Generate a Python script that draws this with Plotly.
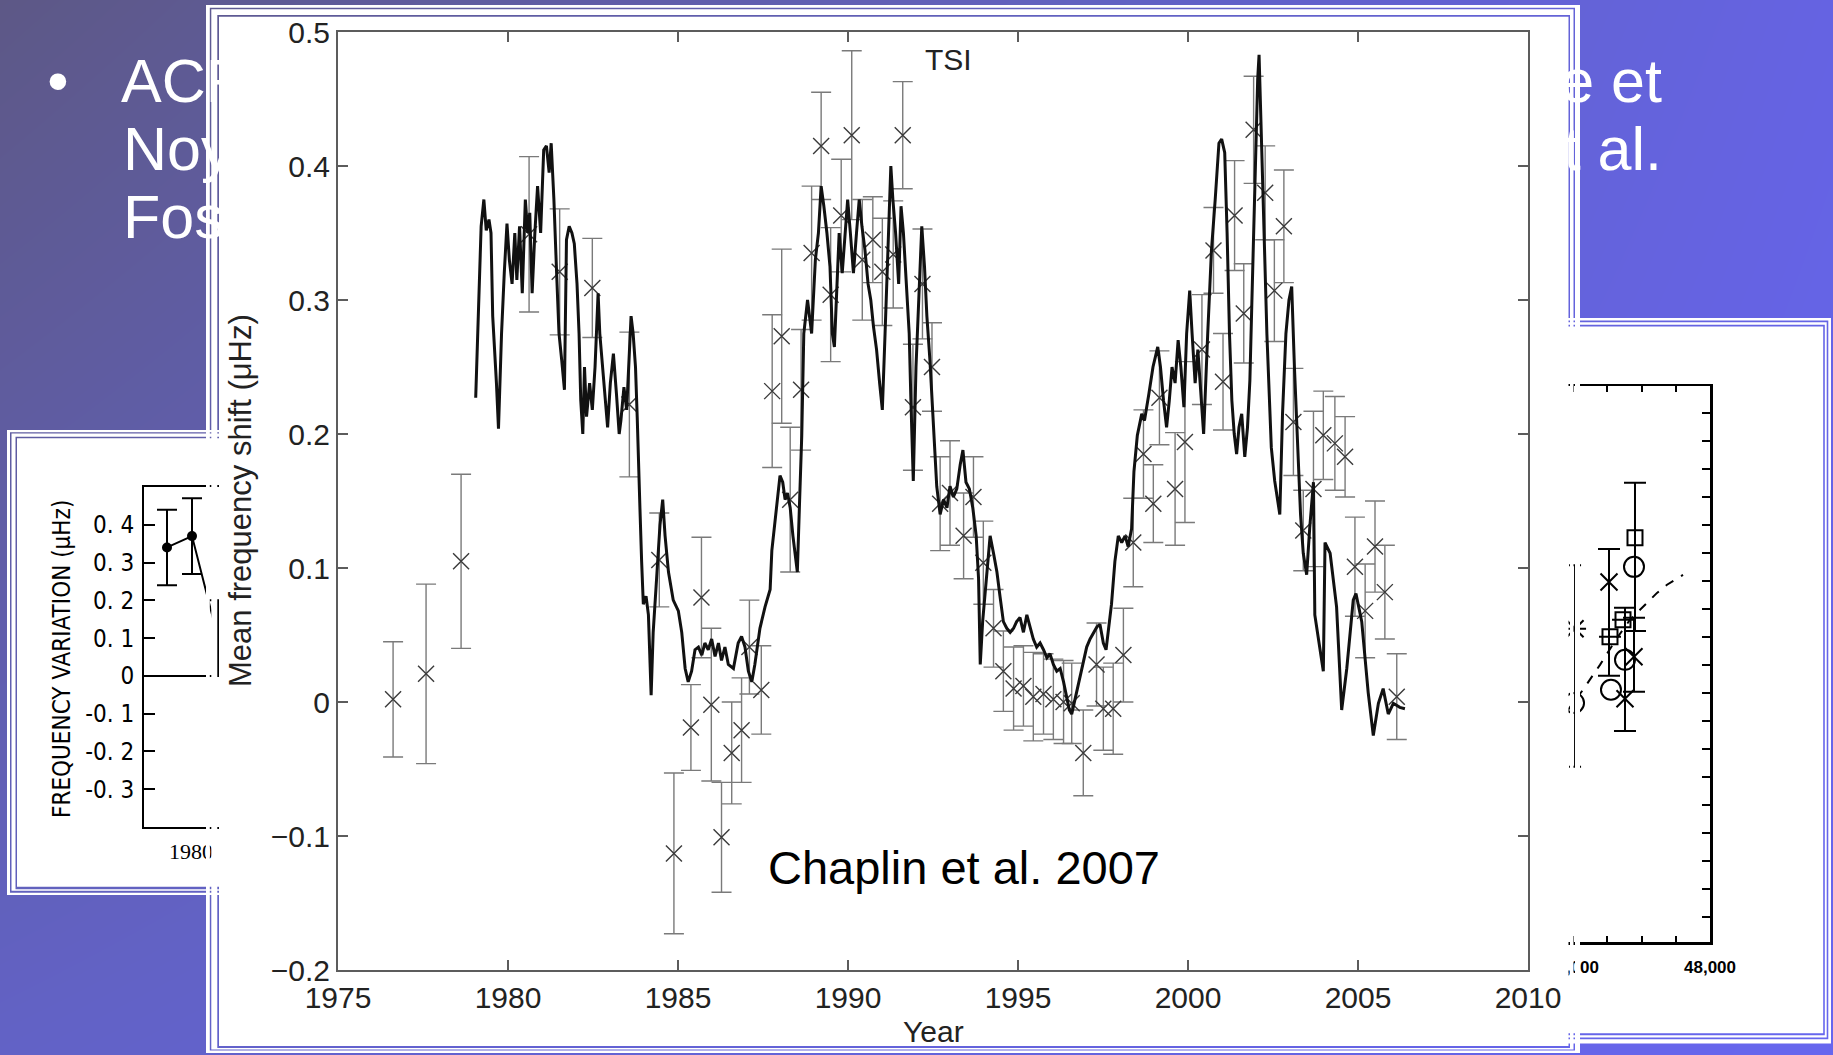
import plotly.graph_objects as go

W, H = 1833, 1055

# ---------------- main chart data (Chaplin et al. 2007) ----------------
tsi_year = [1979.05, 1979.14, 1979.21, 1979.29, 1979.36, 1979.44, 1979.50, 1979.55, 1979.61, 1979.66,
            1979.72, 1979.81, 1979.89, 1979.97, 1980.04, 1980.12, 1980.20, 1980.26, 1980.34, 1980.42,
            1980.51, 1980.58, 1980.64, 1980.71, 1980.79, 1980.87, 1980.96, 1981.05, 1981.13, 1981.21,
            1981.27, 1981.35, 1981.43, 1981.50, 1981.58, 1981.66, 1981.72, 1981.80, 1981.88, 1981.95,
            1982.03, 1982.09, 1982.14, 1982.20, 1982.25, 1982.31, 1982.40, 1982.48, 1982.56, 1982.65,
            1982.70, 1982.78, 1982.87, 1982.93, 1983.01, 1983.10, 1983.19, 1983.27, 1983.32, 1983.41,
            1983.49, 1983.55, 1983.62, 1983.68, 1983.75, 1983.80, 1983.84, 1983.88, 1983.93, 1983.98,
            1984.06, 1984.13, 1984.21, 1984.27, 1984.37, 1984.47, 1984.55, 1984.62, 1984.72, 1984.86,
            1985.01, 1985.11, 1985.21, 1985.30, 1985.40, 1985.50, 1985.60, 1985.70, 1985.79, 1985.89,
            1985.99, 1986.09, 1986.19, 1986.28, 1986.38, 1986.48, 1986.63, 1986.77, 1986.87, 1986.97,
            1987.07, 1987.17, 1987.26, 1987.41, 1987.56, 1987.71, 1987.76, 1987.89, 1988.00, 1988.08,
            1988.15, 1988.22, 1988.30, 1988.38, 1988.45, 1988.51, 1988.57, 1988.64, 1988.70, 1988.81,
            1988.93, 1989.04, 1989.13, 1989.21, 1989.29, 1989.38, 1989.47, 1989.54, 1989.60, 1989.67,
            1989.74, 1989.83, 1989.92, 1989.99, 1990.07, 1990.16, 1990.25, 1990.33, 1990.41, 1990.50,
            1990.59, 1990.67, 1990.75, 1990.84, 1990.93, 1991.01, 1991.09, 1991.18, 1991.26, 1991.32,
            1991.40, 1991.49, 1991.56, 1991.63, 1991.72, 1991.80, 1991.85, 1991.92, 1992.00, 1992.08,
            1992.17, 1992.25, 1992.32, 1992.41, 1992.50, 1992.61, 1992.71, 1992.81, 1992.91, 1993.00,
            1993.10, 1993.20, 1993.30, 1993.38, 1993.47, 1993.57, 1993.67, 1993.77, 1993.84, 1993.89,
            1993.96, 1994.06, 1994.18, 1994.28, 1994.38, 1994.47, 1994.57, 1994.67, 1994.77, 1994.87,
            1994.96, 1995.06, 1995.16, 1995.26, 1995.36, 1995.45, 1995.55, 1995.65, 1995.75, 1995.85,
            1995.94, 1996.04, 1996.14, 1996.24, 1996.34, 1996.43, 1996.51, 1996.58, 1996.65, 1996.73,
            1996.83, 1996.93, 1997.02, 1997.12, 1997.22, 1997.32, 1997.41, 1997.51, 1997.59, 1997.67,
            1997.75, 1997.85, 1997.95, 1998.05, 1998.15, 1998.24, 1998.34, 1998.41, 1998.51, 1998.64,
            1998.72, 1998.85, 1998.97, 1999.11, 1999.19, 1999.28, 1999.37, 1999.45, 1999.53, 1999.62,
            1999.71, 1999.79, 1999.88, 1999.96, 2000.05, 2000.12, 2000.21, 2000.29, 2000.38, 2000.46,
            2000.58, 2000.69, 2000.80, 2000.91, 2000.99, 2001.08, 2001.15, 2001.22, 2001.29, 2001.36,
            2001.43, 2001.50, 2001.58, 2001.67, 2001.75, 2001.82, 2001.88, 2001.94, 2002.00, 2002.05,
            2002.09, 2002.13, 2002.21, 2002.32, 2002.45, 2002.55, 2002.64, 2002.70, 2002.78, 2002.88,
            2002.97, 2003.05, 2003.13, 2003.22, 2003.31, 2003.39, 2003.49, 2003.58, 2003.69, 2003.73,
            2003.88, 2003.98, 2004.03, 2004.18, 2004.37, 2004.52, 2004.67, 2004.86, 2004.94, 2005.11,
            2005.30, 2005.45, 2005.60, 2005.74, 2005.89, 2006.04, 2006.23, 2006.38]
tsi_shift = [0.227, 0.300, 0.355, 0.375, 0.352, 0.360, 0.350, 0.288, 0.263, 0.238,
             0.204, 0.275, 0.320, 0.357, 0.330, 0.312, 0.350, 0.315, 0.355, 0.305,
             0.375, 0.350, 0.365, 0.305, 0.350, 0.385, 0.350, 0.412, 0.415, 0.395,
             0.417, 0.375, 0.320, 0.275, 0.255, 0.233, 0.345, 0.355, 0.350, 0.342,
             0.312, 0.275, 0.225, 0.200, 0.250, 0.213, 0.238, 0.218, 0.250, 0.305,
             0.275, 0.250, 0.220, 0.205, 0.238, 0.260, 0.230, 0.200, 0.210, 0.235,
             0.218, 0.250, 0.288, 0.275, 0.250, 0.213, 0.170, 0.145, 0.105, 0.073,
             0.079, 0.065, 0.005, 0.052, 0.092, 0.132, 0.151, 0.124, 0.097, 0.076,
             0.068, 0.052, 0.025, 0.015, 0.023, 0.039, 0.041, 0.035, 0.044, 0.039,
             0.047, 0.034, 0.044, 0.031, 0.041, 0.028, 0.025, 0.044, 0.049, 0.041,
             0.023, 0.015, 0.028, 0.055, 0.071, 0.084, 0.113, 0.145, 0.169, 0.164,
             0.151, 0.156, 0.145, 0.124, 0.108, 0.097, 0.145, 0.199, 0.275, 0.300,
             0.275, 0.330, 0.350, 0.385, 0.370, 0.350, 0.325, 0.275, 0.265, 0.312,
             0.350, 0.320, 0.350, 0.375, 0.350, 0.320, 0.350, 0.375, 0.355, 0.337,
             0.312, 0.300, 0.280, 0.263, 0.238, 0.218, 0.275, 0.350, 0.400, 0.375,
             0.350, 0.312, 0.370, 0.350, 0.305, 0.275, 0.225, 0.165, 0.250, 0.300,
             0.355, 0.325, 0.288, 0.255, 0.213, 0.161, 0.140, 0.151, 0.145, 0.161,
             0.153, 0.159, 0.177, 0.188, 0.164, 0.159, 0.145, 0.124, 0.092, 0.028,
             0.060, 0.092, 0.124, 0.111, 0.097, 0.079, 0.060, 0.055, 0.052, 0.055,
             0.060, 0.063, 0.052, 0.065, 0.055, 0.047, 0.041, 0.044, 0.039, 0.033,
             0.036, 0.028, 0.023, 0.025, 0.015, 0.004, -0.006, -0.009, -0.001, 0.007,
             0.017, 0.031, 0.041, 0.047, 0.052, 0.056, 0.058, 0.044, 0.039, 0.055,
             0.073, 0.105, 0.124, 0.119, 0.124, 0.116, 0.129, 0.172, 0.199, 0.215,
             0.210, 0.230, 0.250, 0.265, 0.250, 0.225, 0.205, 0.225, 0.250, 0.238,
             0.270, 0.250, 0.220, 0.275, 0.307, 0.275, 0.238, 0.263, 0.225, 0.200,
             0.275, 0.337, 0.375, 0.417, 0.420, 0.410, 0.350, 0.275, 0.225, 0.200,
             0.185, 0.205, 0.215, 0.183, 0.205, 0.240, 0.300, 0.360, 0.420, 0.465,
             0.483, 0.440, 0.375, 0.275, 0.190, 0.165, 0.150, 0.140, 0.215, 0.275,
             0.300, 0.310, 0.250, 0.190, 0.140, 0.111, 0.095, 0.130, 0.164, 0.065,
             0.039, 0.023, 0.119, 0.111, 0.071, -0.006, 0.025, 0.076, 0.081, 0.060,
             0.007, -0.025, -0.001, 0.010, -0.009, -0.001, -0.004, -0.005]

pt_year = [1976.62, 1977.59, 1978.62, 1980.62, 1981.52, 1982.48, 1983.57, 1984.45, 1984.88, 1985.38,
           1985.69, 1985.98, 1986.28, 1986.58, 1986.87, 1987.10, 1987.45, 1987.77, 1988.05, 1988.30,
           1988.62, 1988.93, 1989.21, 1989.49, 1989.80, 1990.11, 1990.42, 1990.73, 1991.01, 1991.33,
           1991.61, 1991.91, 1992.19, 1992.47, 1992.71, 1993.00, 1993.40, 1993.69, 1993.98, 1994.28,
           1994.57, 1994.87, 1995.16, 1995.45, 1995.75, 1996.04, 1996.34, 1996.58, 1996.92, 1997.31,
           1997.51, 1997.80, 1998.10, 1998.39, 1998.69, 1998.98, 1999.16, 1999.62, 1999.91, 2000.41,
           2000.75, 2001.03, 2001.37, 2001.64, 2001.93, 2002.27, 2002.54, 2002.82, 2003.10, 2003.39,
           2003.69, 2003.98, 2004.32, 2004.62, 2004.91, 2005.21, 2005.50, 2005.79, 2006.14]
pt_shift = [0.002, 0.021, 0.105, 0.349, 0.321, 0.309, 0.222, 0.106, -0.113, -0.019,
            0.078, -0.002, -0.101, -0.038, -0.021, 0.041, 0.009, 0.232, 0.273, 0.151,
            0.233, 0.335, 0.415, 0.304, 0.363, 0.423, 0.330, 0.345, 0.321, 0.334,
            0.423, 0.220, 0.312, 0.250, 0.148, 0.156, 0.124, 0.153, 0.104, 0.055,
            0.023, 0.010, 0.012, 0.004, 0.006, 0.002, 0.000, -0.001, -0.038, 0.028,
            -0.005, -0.005, 0.035, 0.119, 0.185, 0.148, 0.227, 0.159, 0.194, 0.263,
            0.337, 0.239, 0.363, 0.290, 0.427, 0.380, 0.307, 0.355, 0.209, 0.128,
            0.159, 0.199, 0.193, 0.183, 0.101, 0.068, 0.116, 0.082, 0.004]
pt_err = [0.043, 0.067, 0.065, 0.058, 0.047, 0.037, 0.054, 0.035, 0.060, 0.032,
          0.045, 0.057, 0.041, 0.038, 0.039, 0.035, 0.033, 0.057, 0.065, 0.054,
          0.045, 0.050, 0.040, 0.050, 0.042, 0.063, 0.045, 0.032, 0.040, 0.040,
          0.040, 0.047, 0.041, 0.033, 0.035, 0.039, 0.032, 0.030, 0.031, 0.029,
          0.030, 0.031, 0.030, 0.033, 0.030, 0.030, 0.031, 0.030, 0.032, 0.031,
          0.031, 0.034, 0.035, 0.033, 0.033, 0.029, 0.035, 0.042, 0.060, 0.041,
          0.032, 0.036, 0.041, 0.037, 0.040, 0.035, 0.038, 0.042, 0.040, 0.030,
          0.058, 0.033, 0.035, 0.030, 0.037, 0.035, 0.034, 0.035, 0.032]

x_ticks = [1975, 1980, 1985, 1990, 1995, 2000, 2005, 2010]

# ---------------- left inset (frequency variation) ----------------
li_year = [1979.04, 1980.04, 1981.08]
li_var = [0.34, 0.37, 0.10]
li_err = [0.10, 0.10, 0.10]
li_tickvals = [-0.3, -0.2, -0.1, 0, 0.1, 0.2, 0.3, 0.4]
li_ticktext = ["-0. 3", "-0. 2", "-0. 1", "0", "0. 1", "0. 2", "0. 3", "0. 4"]

# ---------------- right inset ----------------
ri_sq_x = [45080, 45460, 45810]
ri_sq_y = [1.0, 1.61, 4.54]
ri_ci_x = [44030, 45109, 45518, 45781]
ri_ci_y = [-1.36, -0.89, 0.18, 3.5]
ri_x_x = [44060, 45051, 45781, 45518]
ri_x_y = [1.29, 2.96, 0.29, -1.21]
ri_x_up = [0, 1.18, 1.39, 3.25]
ri_x_dn = [0, 3.35, 1.25, 1.15]
ri_sq_up = [0, 0, 1.96]
ri_sq_dn = [0, 0, 3.33]
ri_br_x = [44060]
ri_br_y = [-0.04]
ri_br_err = [3.6]
ri_curve_x = [43800, 44292, 44788, 45285, 45664, 46044, 46453, 46745, 47212]
ri_curve_y = [-1.7, -0.89, 0.0, 0.96, 1.61, 2.07, 2.57, 2.86, 3.21]
ri_xtick = list(range(32000, 48001, 1000))
ri_xlabel = [f"{v:,}" if v % 4000 == 0 else "" for v in ri_xtick]

# ---------------- slide geometry (pixels) ----------------
# edges: [ring1 outer, ring1 inner, ring2 outer, ring2 inner, interior]
MAIN = dict(l=[206, 209.8, 211.3, 217.3, 219.0], t=[5, 7.8, 9.2, 15.0, 16.8],
            r=[1580, 1575, 1573.5, 1570, 1568.5], b=[1053, 1050.5, 1049.5, 1048, 1046])
LEFT = dict(l=[7, 10, 11.5, 15.5, 17], t=[430, 432.3, 433.6, 436.8, 438.3],
            r=[400, 397, 395.5, 391.5, 390], b=[895, 892.7, 890.7, 889.3, 886.7])
RIGHT = dict(l=[1300, 1303, 1304.5, 1308, 1309.5], t=[318, 320.5, 322.2, 324.8, 326.5],
             r=[1831, 1828.3, 1826.7, 1824.8, 1823.2], b=[1043.5, 1039.2, 1037.5, 1035.2, 1033.2])

FONT = "Liberation Sans, Arial, sans-serif"
NARROW = "Liberation Sans Narrow, DejaVu Sans Condensed, sans-serif"


def rect(x0, y0, x1, y1):
    return [x0, x1, x1, x0, x0, None], [y0, y0, y1, y1, y0, None]


def panel(e):
    xs, ys = [], []
    for k in (0, 2):
        L0, L1 = e['l'][k], e['l'][k + 1]
        T0, T1 = e['t'][k], e['t'][k + 1]
        R0, R1 = e['r'][k], e['r'][k + 1]
        B0, B1 = e['b'][k], e['b'][k + 1]
        for r in (rect(L0, T0, R0, T1), rect(L0, B1, R0, B0), rect(L0, T0, L1, B0), rect(R1, T0, R0, B0)):
            xs += r[0]
            ys += r[1]
    r = rect(e['l'][4], e['t'][4], e['r'][4], e['b'][4])
    xs += r[0]
    ys += r[1]
    return xs, ys


def poly_trace(e, ax):
    xs, ys = panel(e)
    return go.Scatter(x=xs, y=ys, mode='lines', fill='toself', fillcolor='white',
                      line=dict(width=0, color='white'), hoverinfo='skip',
                      xaxis='x' + ax, yaxis='y' + ax)


fig = go.Figure()

# ---- subplot 1: background gradient, bullet text, inset panels ----
fig.add_trace(go.Heatmap(x=[0, W], y=[0, H], z=[[0, 0.85], [0.55, 1]], zsmooth='best',
                         colorscale=[[0, '#5d5886'], [0.55, '#6262c6'], [0.85, '#6563e2'], [1, '#6666ee']],
                         showscale=False, hoverinfo='skip', xaxis='x', yaxis='y'))
FS = 61
base = [102, 170, 238]
fig.add_trace(go.Scatter(x=[58], y=[base[0] - 0.25 * FS], mode='text', text=['•'],
                         textposition='middle center', hoverinfo='skip',
                         textfont=dict(family=FONT, size=FS, color='white'), xaxis='x', yaxis='y'))
fig.add_trace(go.Scatter(x=[121, 123, 123], y=[b - 0.25 * FS for b in base], mode='text',
                         text=['ACR', 'Noy', 'Fos'], textposition='middle right', hoverinfo='skip',
                         textfont=dict(family=FONT, size=FS, color='white'), xaxis='x', yaxis='y'))
fig.add_trace(go.Scatter(x=[1662, 1662], y=[b - 0.25 * FS for b in base[:2]], mode='text',
                         text=['lle et', 'et al.'], textposition='middle left', hoverinfo='skip',
                         textfont=dict(family=FONT, size=FS, color='white'), xaxis='x', yaxis='y'))
fig.add_trace(poly_trace(LEFT, ''))
fig.add_trace(poly_trace(RIGHT, ''))

# ---- subplot 2: left inset chart ----
fig.add_trace(go.Scatter(x=li_year, y=li_var, mode='lines+markers',
                         marker=dict(size=10, color='black'), line=dict(color='black', width=2),
                         error_y=dict(type='data', array=li_err, color='black', thickness=2, width=10),
                         hoverinfo='skip', xaxis='x2', yaxis='y2'))

# ---- subplot 3: right inset chart ----
fig.add_trace(go.Scatter(x=ri_curve_x, y=ri_curve_y, mode='lines',
                         line=dict(color='black', width=2, dash='dash'), hoverinfo='skip',
                         xaxis='x3', yaxis='y3'))
fig.add_trace(go.Scatter(x=ri_br_x, y=ri_br_y, mode='markers', marker=dict(size=1, color='rgba(0,0,0,0)'),
                         error_y=dict(type='data', array=ri_br_err, color='black', thickness=2, width=6),
                         hoverinfo='skip', xaxis='x3', yaxis='y3'))
fig.add_trace(go.Scatter(x=ri_sq_x, y=ri_sq_y, mode='markers',
                         marker=dict(symbol='square-open', size=15, color='black', line=dict(width=2)),
                         error_y=dict(type='data', symmetric=False, array=ri_sq_up, arrayminus=ri_sq_dn,
                                      color='black', thickness=2, width=11),
                         hoverinfo='skip', xaxis='x3', yaxis='y3'))
fig.add_trace(go.Scatter(x=ri_ci_x, y=ri_ci_y, mode='markers',
                         marker=dict(symbol='circle-open', size=20, color='black', line=dict(width=2)),
                         hoverinfo='skip', xaxis='x3', yaxis='y3'))
fig.add_trace(go.Scatter(x=ri_x_x, y=ri_x_y, mode='markers',
                         marker=dict(symbol='x-thin', size=17, color='black', line=dict(width=2, color='black')),
                         error_y=dict(type='data', symmetric=False, array=ri_x_up, arrayminus=ri_x_dn,
                                      color='black', thickness=2, width=11),
                         hoverinfo='skip', xaxis='x3', yaxis='y3'))

# ---- subplot 4: main slide panel (covers the layers below) ----
fig.add_trace(poly_trace(MAIN, '4'))

# ---- subplot 5: main chart ----
fig.add_trace(go.Scatter(x=pt_year, y=pt_shift, mode='markers',
                         marker=dict(symbol='x-thin', size=16, color='#3a3a3a', line=dict(width=1.4, color='#3a3a3a')),
                         error_y=dict(type='data', array=pt_err, color='#7a7a7a', thickness=1.4, width=10),
                         hoverinfo='skip', xaxis='x5', yaxis='y5'))
fig.add_trace(go.Scatter(x=tsi_year, y=tsi_shift, mode='lines', line=dict(color='#111111', width=3),
                         hoverinfo='skip', xaxis='x5', yaxis='y5'))


def dx(a, b):
    return [a / W, b / W]


def dy(top, bottom):
    return [1 - bottom / H, 1 - top / H]


hidden = dict(visible=False, showgrid=False, zeroline=False, fixedrange=True, automargin=False)
main_ax = dict(showline=True, linecolor='#5c5c5c', linewidth=2, mirror='ticks', ticks='inside',
               ticklen=10, tickwidth=1.5, tickcolor='#5c5c5c', showgrid=False, zeroline=False,
               automargin=False, tickfont=dict(family=FONT, size=30, color='#222222'))

fig.update_layout(
    width=W, height=H, autosize=False, margin=dict(l=0, r=0, t=0, b=0, pad=0, autoexpand=False),
    paper_bgcolor='#6260b8', plot_bgcolor='rgba(0,0,0,0)', showlegend=False, hovermode=False,
    xaxis=dict(domain=[0, 1], range=[0, W], anchor='y', **hidden),
    yaxis=dict(domain=[0, 1], range=[H, 0], anchor='x', **hidden),
    xaxis4=dict(domain=[0, 1], range=[0, W], anchor='y4', **hidden),
    yaxis4=dict(domain=[0, 1], range=[H, 0], anchor='x4', **hidden),
    xaxis2=dict(domain=dx(144, 400), range=[1978.12, 1988.36], anchor='y2', showline=True,
                linecolor='black', linewidth=2, mirror=True, ticks='', tickvals=[1980], ticktext=['1980'],
                tickfont=dict(family='Liberation Serif, Times New Roman, serif', size=22, color='black'),
                showgrid=False, zeroline=False, ticklabelstandoff=4, automargin=False),
    yaxis2=dict(domain=dy(487, 827), range=[-0.4, 0.5], anchor='x2', showline=True, linecolor='black',
                linewidth=2, mirror=True, ticks='inside', ticklen=11, tickwidth=2, tickcolor='black',
                tickvals=li_tickvals, ticktext=li_ticktext,
                tickfont=dict(family=NARROW, size=24, color='black'), automargin=False,
                showgrid=False, zeroline=True, zerolinecolor='black', zerolinewidth=2, ticklabelstandoff=3),
    xaxis3=dict(domain=dx(1162, 1710), range=[32000, 48000], anchor='y3', showline=True, linecolor='black',
                linewidth=2.5, mirror='allticks', ticks='inside', ticklen=6, tickwidth=2, tickcolor='black',
                tickvals=ri_xtick, ticktext=ri_xlabel, automargin=False,
                tickfont=dict(family=FONT, size=17, color='black', weight='bold'),
                showgrid=False, zeroline=False, ticklabelstandoff=8),
    yaxis3=dict(domain=dy(386, 942), range=[-9.9, 9.96], anchor='x3', showline=True, linecolor='black',
                linewidth=2.5, mirror='allticks', ticks='inside', ticklen=8, tickwidth=2, tickcolor='black',
                tick0=0, dtick=1, showticklabels=False, showgrid=False, zeroline=False, automargin=False),
    xaxis5=dict(domain=dx(338, 1528), range=[1975, 2010], anchor='y5', tickvals=x_ticks,
                ticklabelstandoff=0, **main_ax),
    yaxis5=dict(domain=dy(32, 970), range=[-0.2, 0.5], anchor='x5', tick0=0, dtick=0.1,
                ticklabelstandoff=0, **main_ax),
)


def ann(text, px, py, size, color='#222222', angle=0, family=FONT):
    fig.add_annotation(text=text, x=px / W, y=1 - py / H, xref='paper', yref='paper', showarrow=False,
                       xanchor='center', yanchor='middle', textangle=angle,
                       font=dict(family=family, size=size, color=color))


ann('TSI', 948, 59, 30)
ann('Chaplin et al. 2007', 964, 867, 47, color='black')
ann('Year', 933, 1031, 30)
ann('Mean frequency shift (μHz)', 240, 501, 31, angle=-90)
ann('FREQUENCY VARIATION (μHz)', 62, 659, 24, color='black', angle=-90, family=NARROW)

fig.write_html("out.html", config={'displayModeBar': False, 'staticPlot': True},
               post_script="document.body.style.margin='0';document.body.style.overflow='hidden';")
